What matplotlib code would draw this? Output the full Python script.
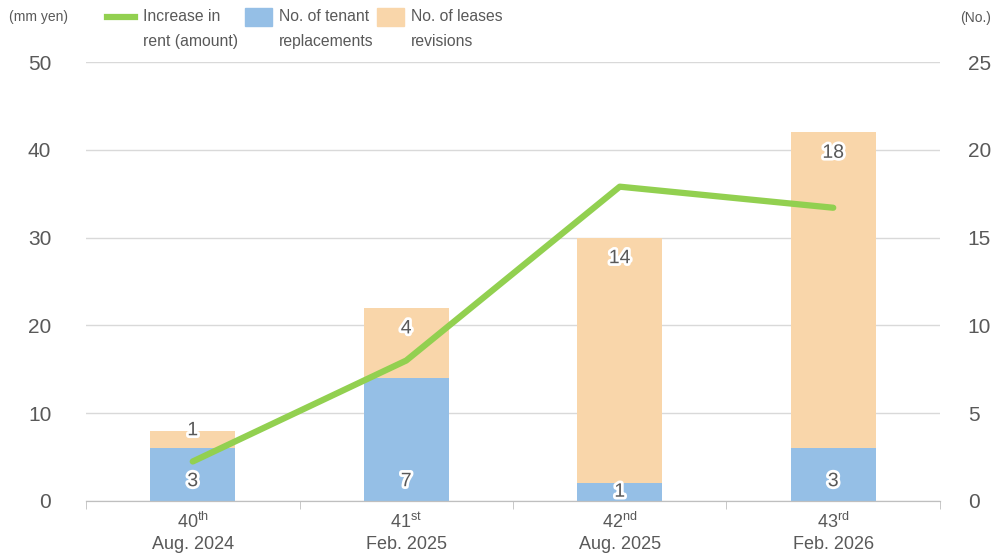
import matplotlib
matplotlib.use("Agg")
import matplotlib.pyplot as plt
import matplotlib.patheffects as pe
from matplotlib.lines import Line2D
from matplotlib.patches import Rectangle
import numpy as np

plt.rcParams['font.family'] = ['Liberation Sans', 'DejaVu Sans']
plt.rcParams['mathtext.fontset'] = 'custom'
plt.rcParams['mathtext.rm'] = 'Liberation Sans'
plt.rcParams['mathtext.it'] = 'Liberation Sans'

# ---- data ----
period_nums = ["40", "41", "42", "43"]
period_suffix = ["th", "st", "nd", "rd"]
period_dates = ["Aug. 2024", "Feb. 2025", "Aug. 2025", "Feb. 2026"]
tenant_replacements = [3, 7, 1, 3]
lease_revisions = [1, 4, 14, 18]
rent_increase = [4.5, 16.0, 35.8, 33.4]  # mm yen

legend_labels = ["Increase in\nrent (amount)", "No. of tenant\nreplacements", "No. of leases\nrevisions"]

GREEN = "#92D050"
BLUE = "#95BFE6"
PEACH = "#F9D6AA"
TXT = "#595959"
GRID = "#D9D9D9"

fig = plt.figure(figsize=(9.98, 5.55), dpi=100)
ax_l = fig.add_axes([86/998, 1-501/555, (940-86)/998, (501-62)/555])
ax_r = ax_l.twinx()
ax_l.set_zorder(2)
ax_l.patch.set_visible(False)

x = np.arange(len(period_nums))
w = 0.40
t = np.array(tenant_replacements)
r = np.array(lease_revisions)
ax_r.bar(x, t, width=w, color=BLUE, zorder=2)
ax_r.bar(x, r, width=w, bottom=t, color=PEACH, zorder=2)

glow = [pe.withStroke(linewidth=4, foreground="white")]
for i in range(len(x)):
    yb = min(t[i] / 2, 1.1)
    ax_r.text(x[i], yb, str(t[i]), ha='center', va='center', fontsize=14,
              color=TXT, path_effects=glow, zorder=3)
    top = t[i] + r[i]
    yr = top - min(1.2, 1.2 * (r[i] - 1))
    ax_r.text(x[i], yr, str(r[i]), ha='center', va='center', fontsize=14,
              color=TXT, path_effects=glow, zorder=3)

ax_l.plot(x, rent_increase, color=GREEN, lw=4.5, solid_capstyle='round',
          solid_joinstyle='round', zorder=4)

ax_l.set_ylim(0, 50)
ax_r.set_ylim(0, 25)
ax_l.set_xlim(-0.5, 3.5)
ax_l.set_yticks(np.arange(0, 51, 10))
ax_r.set_yticks(np.arange(0, 26, 5))
ax_r.grid(axis='y', color=GRID, lw=1, zorder=0)
ax_r.set_axisbelow(True)

for a in (ax_l, ax_r):
    for s in ['top', 'left', 'right']:
        a.spines[s].set_visible(False)
    a.spines['bottom'].set_color("#BFBFBF")
ax_l.tick_params(axis='y', length=0, pad=25, labelsize=15, labelcolor=TXT)
ax_r.tick_params(axis='y', length=0, pad=20, labelsize=15, labelcolor=TXT)

ax_l.set_xticks(x)
ax_l.set_xticklabels([f"{n}$^{{\\mathrm{{{s}}}}}$\n{d}" for n, s, d in zip(period_nums, period_suffix, period_dates)],
                     fontsize=13, color=TXT, linespacing=1.3)
ax_l.tick_params(axis='x', which='major', length=0, pad=8)
ax_l.set_xticks(np.arange(-0.5, 3.6, 1.0), minor=True)
ax_l.tick_params(axis='x', which='minor', length=6, color="#BFBFBF")

# units
fig.text(9/998, 1-17/555, "(mm yen)", fontsize=10, color=TXT, ha='left', va='center')
fig.text(960/998, 1-18/555, "(No.)", fontsize=10, color=TXT, ha='left', va='center')

# legend (manual)
fig.add_artist(Line2D([107/998, 135/998], [1-17/555, 1-17/555], color=GREEN, lw=4.5,
                      transform=fig.transFigure))
fig.add_artist(Rectangle((245/998, 1-26/555), 27/998, 18/555, color=BLUE,
                         transform=fig.transFigure))
fig.add_artist(Rectangle((377/998, 1-26/555), 27/998, 18/555, color=PEACH,
                         transform=fig.transFigure))
for xpos, lab in zip([143, 279, 411], legend_labels):
    fig.text(xpos/998, 1-9/555, lab, fontsize=11.3, color=TXT, ha='left', va='top',
             linespacing=1.8)

fig.savefig("out.png", dpi=100)
